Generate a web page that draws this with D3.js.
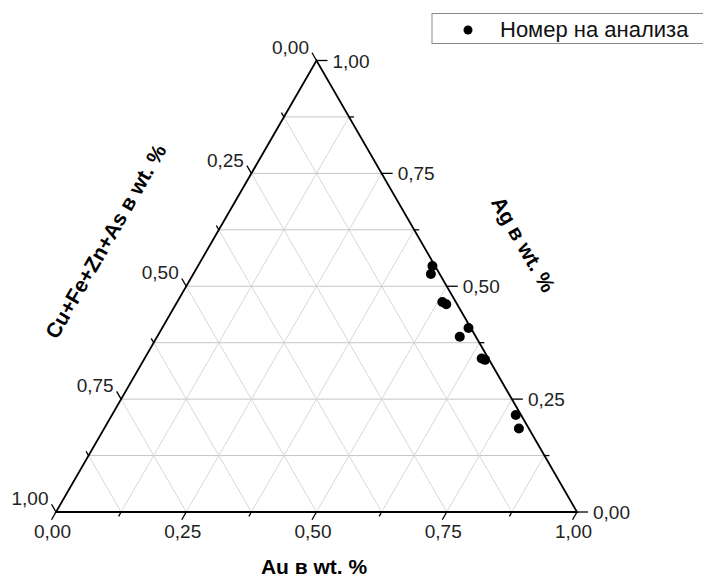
<!DOCTYPE html>
<html><head><meta charset="utf-8">
<script src="https://cdn.jsdelivr.net/npm/d3@7"></script>
<style>body{margin:0;background:#fff}svg{display:block}</style>
</head><body>
<svg id="c" width="703" height="580"></svg>
<script>
// Data (fractions): Au, Ag, Cu+Fe+Zn+As
const au    = [0.450, 0.456, 0.509, 0.519, 0.588, 0.581, 0.647, 0.655, 0.775, 0.796];
const ag    = [0.545, 0.527, 0.465, 0.460, 0.4075, 0.388, 0.340, 0.337, 0.215, 0.185];
const other = au.map((a,i)=>Math.max(0, 1 - a - ag[i]));
const majorTicks = [0, 0.25, 0.5, 0.75, 1];
const tickLabels = ["0,00", "0,25", "0,50", "0,75", "1,00"];
const minorTicks = [0.125, 0.375, 0.625, 0.875];
const gridVals = [0.125, 0.25, 0.375, 0.5, 0.625, 0.75, 0.875];
const legendLabel = "Номер на анализа";
const titleBottom = "Au в wt. %";
const titleLeft = "Cu+Fe+Zn+As в wt. %";
const titleRight = "Ag в wt. %";

const svg = d3.select("#c");
const font = "Arial, 'Liberation Sans', sans-serif";
const xS = d3.scaleLinear().domain([0,1]).range([56,577]);
const yS = d3.scaleLinear().domain([0,1]).range([512,60.5]);
const P = (a,g) => [xS(a + g/2), yS(g)];

// grid
const grid = svg.append("g").attr("fill","none").attr("stroke-width",1);
gridVals.forEach(t=>{
  let p1=P(0,t), p2=P(1-t,t);
  grid.append("line").attr("x1",p1[0]).attr("y1",p1[1]).attr("x2",p2[0]).attr("y2",p2[1]).attr("stroke","#c4c4c4");
  p1=P(t,0); p2=P(t,1-t);
  grid.append("line").attr("x1",p1[0]).attr("y1",p1[1]).attr("x2",p2[0]).attr("y2",p2[1]).attr("stroke","#d8d8d8");
  p1=P(1-t,0); p2=P(0,1-t);
  grid.append("line").attr("x1",p1[0]).attr("y1",p1[1]).attr("x2",p2[0]).attr("y2",p2[1]).attr("stroke","#d8d8d8");
});

// triangle edges
const A=P(0,0), B=P(1,0), C=P(0,1);
svg.append("path").attr("d",`M${A[0]},${A[1]}L${B[0]},${B[1]}L${C[0]},${C[1]}Z`)
  .attr("fill","none").attr("stroke","#000").attr("stroke-width",1.8).attr("stroke-linejoin","miter");

// axes
const axes = [
  {pt:t=>P(t,0), dir:[-0.5,0.866]},        // bottom Au
  {pt:t=>P(1-t,t), dir:[1,0]},             // right Ag
  {pt:t=>P(0,1-t), dir:[-0.5,-0.866]}      // left other
];
const tg = svg.append("g").attr("stroke","#000").attr("stroke-width",1.3);
const lg = svg.append("g").attr("font-family",font).attr("font-size",19).attr("fill","#222");
axes.forEach((ax,k)=>{
  majorTicks.forEach((t,i)=>{
    const p=ax.pt(t), L = k===1?11:9;
    const e=[p[0]+ax.dir[0]*L, p[1]+ax.dir[1]*L];
    tg.append("line").attr("x1",p[0]).attr("y1",p[1]).attr("x2",e[0]).attr("y2",e[1]);
    const txt=lg.append("text").text(tickLabels[i]);
    if(k===0) txt.attr("x",e[0]+1).attr("y",p[1]+26).attr("text-anchor","middle");
    else if(k===1) txt.attr("x",e[0]+5).attr("y",p[1]+7).attr("text-anchor","start");
    else txt.attr("x",e[0]-3).attr("y",e[1]+1).attr("text-anchor","end");
  });
  minorTicks.forEach(t=>{
    const p=ax.pt(t), L=5;
    tg.append("line").attr("x1",p[0]).attr("y1",p[1]).attr("x2",p[0]+ax.dir[0]*L).attr("y2",p[1]+ax.dir[1]*L);
  });
});

// titles
const tt = svg.append("g").attr("font-family",font).attr("font-size",21).attr("font-weight","bold").attr("fill","#000").attr("text-anchor","middle");
tt.append("text").attr("x",314).attr("y",574).text(titleBottom);
tt.append("text").attr("transform","translate(112,245) rotate(-60)").text(titleLeft);
tt.append("text").attr("transform","translate(517,248) rotate(60)").text(titleRight);

// points
svg.append("g").selectAll("circle").data(au.map((a,i)=>({a, g:ag[i], c:other[i]}))).join("circle")
  .attr("cx",d=>P(d.a,d.g)[0]).attr("cy",d=>P(d.a,d.g)[1]).attr("r",5).attr("fill","#000");

// legend
const leg = svg.append("g");
leg.append("rect").attr("x",432).attr("y",13.5).attr("width",290).attr("height",30).attr("fill","#fff").attr("stroke","#888").attr("stroke-width",1);
leg.append("circle").attr("cx",468).attr("cy",30).attr("r",4.5).attr("fill","#000");
leg.append("text").attr("x",500).attr("y",37).attr("font-family",font).attr("font-size",22).attr("fill","#111").text(legendLabel);
</script>
</body></html>
